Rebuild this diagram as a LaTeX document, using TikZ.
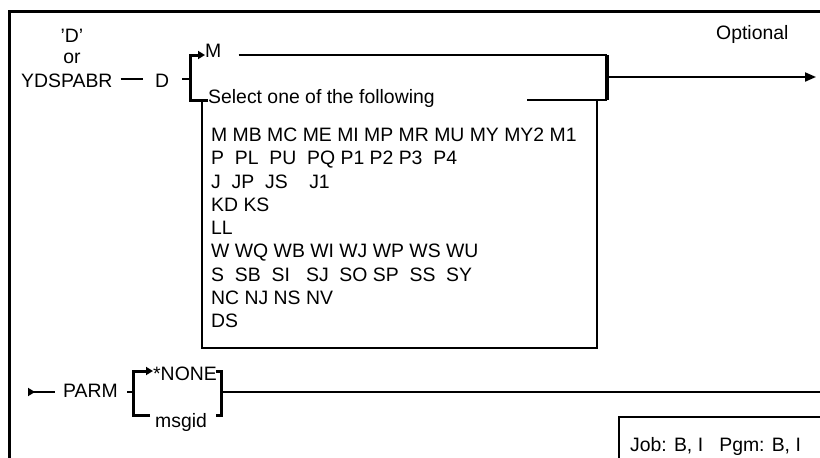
\documentclass[tikz,border=0pt]{standalone}
\usepackage{fontspec}
\setmainfont{Liberation Sans}
\usetikzlibrary{arrows.meta, positioning, calc}

\begin{document}
\begin{tikzpicture}[
        x=1pt, y=-1pt,
        >={Triangle[length=11pt, width=9pt]},
        txt/.style={
            inner sep=0pt,
            font=\fontsize{19.4}{23.25}\selectfont
        },
        thinLine/.style={
            line width=2pt
        },
        bracketLine/.style={
            line width=3pt,
            miter limit=4
        },
        boxLine/.style={
            line width=2.5pt
        },
        smallTip/.style={
            -{Triangle[length=7pt, width=8pt]}
        }
    ]
    \useasboundingbox (0,0) rectangle (820,458);

    % outer frame (cut off at right and bottom)
    \draw[line width=3pt] (9,458) -- (9,11) -- (820,11);

    \node[txt, anchor=base] (quoteD) at (72,42) {'D'};
    \node[txt, anchor=base] (orWord) at (72,63) {or};
    \node[txt, anchor=base west] (ydspabr) at (21,87) {YDSPABR};
    \node[txt, anchor=base west] (dWord) at (155,87) {D};
    \node[txt, anchor=base west] (optional) at (716,39) {Optional};
    \node[txt, anchor=base west] (mWord) at (205,57) {M};
    \node[txt, anchor=base west] (selectWord) at (208,103) {Select one of the following};

    % codes list
    \foreach \codes [count=\i] in {M MB MC ME MI MP MR MU MY MY2 M1, P~~PL~~PU~~PQ P1 P2 P3~~P4,
        J~~JP~~JS~~~~J1, KD KS, LL, W WQ WB WI WJ WP WS WU, S~~SB~~SI~~~SJ~~SO SP~~SS~~SY,
        NC NJ NS NV, DS}
        \node[txt, anchor=base west] (row\i) at (211,118.25+23.25*\i) {\codes};

    \coordinate (splitA) at (190,79);
    \coordinate (brAtop) at (190,55);
    \coordinate (brAbot) at (190,100);
    \coordinate (brBtop) at (607,55);
    \coordinate (brBbot) at (607,100);
    \coordinate (exitA) at (816,77);

    \draw[thinLine] ([xshift=8pt]ydspabr.east |- splitA) -- ([xshift=-12pt]dWord.west |- splitA);
    \draw[thinLine] (splitA) -- ++(-8,0);
    \draw[bracketLine, smallTip] (selectWord.west |- brAbot) -- (brAbot) -- (brAtop) -- (brAtop -| mWord.west);
    \draw[thinLine] ([xshift=17pt]mWord.east |- brAtop) -- (brBtop);
    \draw[thinLine] (brBbot) -- ++(-80,0);
    \draw[line width=4pt] (brBtop) -- (brBbot);
    \draw[thinLine, ->] (brBtop |- exitA) -- (exitA);

    % box round the codes
    \draw[boxLine] (202,100) -- (202,348) -- (597,348) -- (597,100);

    % PARM
    \node[txt, anchor=base west] (parm) at (63,397) {PARM};
    \node[txt, anchor=base west] (noneWord) at (153,380) {*NONE};
    \node[txt, anchor=base west] (msgid) at (155,427) {msgid};

    \coordinate (parmStart) at (28,392);
    \coordinate (parmEnd) at (820,392);
    \coordinate (brCtop) at (133,371);
    \coordinate (brCbot) at (133,415);
    \coordinate (brDtop) at (221,371);
    \coordinate (brDbot) at (221,415);

    \draw[thinLine, {Triangle[reversed, length=7pt, width=8pt]}-, shorten >=8pt] (parmStart) -- (parmStart -| parm.west);
    \draw[thinLine] (brCtop |- parmStart) -- ++(-6,0);
    \draw[bracketLine, smallTip] ([xshift=-5pt]msgid.west |- brCbot) -- (brCbot) -- (brCtop) -- (brCtop -| noneWord.west);
    \draw[bracketLine] ([xshift=-5pt]brDtop) -- (brDtop) -- (brDbot) -- ([xshift=-5pt]brDbot);
    \draw[thinLine] (brDtop |- parmStart) -- (parmEnd);

    % job box
    \node[txt, anchor=base west] (jobInfo) at (630,451) {Job: B, I~~~Pgm: B, I};
    \draw[boxLine] (619,458) -- (619,417) -- (820,417);

\end{tikzpicture}
\end{document}
